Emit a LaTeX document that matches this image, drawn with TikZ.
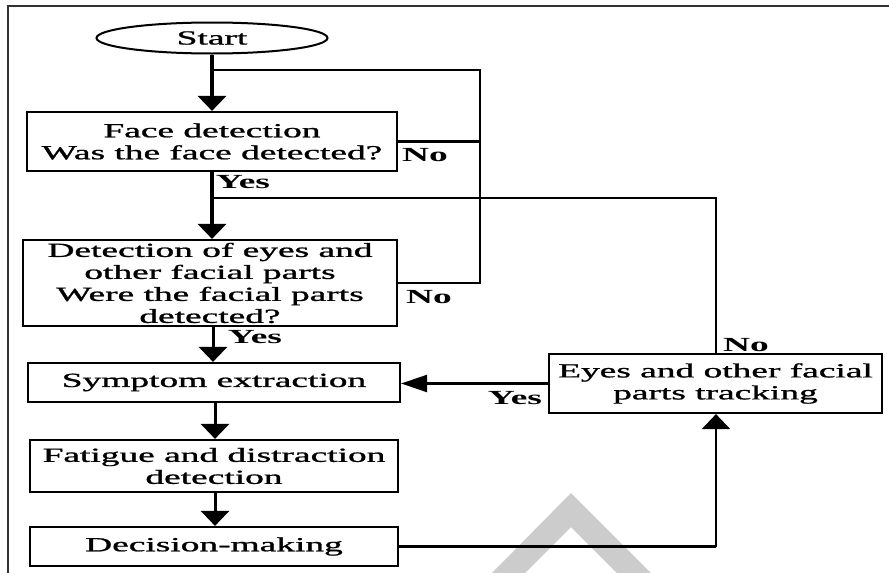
\documentclass[tikz,border=0pt]{standalone}
\usepackage{fontspec}
\setmainfont{Liberation Serif}
\newfontfamily\medfont[FakeBold=0.9]{Liberation Serif}
\usepackage{graphicx}
\usetikzlibrary{arrows.meta,shapes.geometric}
\newcommand{\hs}[1]{\scalebox{1.87}[1]{#1}}
\tikzset{
  box/.style={draw, line width=2.2pt, rectangle, inner sep=0pt, align=center,
    font=\fontsize{20}{22}\selectfont\medfont},
  startbox/.style={draw, line width=2pt, ellipse, inner sep=0pt,
    font=\fontsize{20}{22}\selectfont\medfont},
  lbl/.style={font=\fontsize{20}{22}\selectfont\bfseries, inner sep=0pt},
  mainarrow/.style={line width=3.5pt, -{Triangle[length=15pt,width=28pt]}},
  downarrow/.style={line width=3pt, -{Triangle[length=15pt,width=28pt]}},
  sidearrow/.style={line width=2.2pt, -{Triangle[length=26pt,width=17pt]}},
  uparrow/.style={line width=2.5pt, -{Triangle[length=15pt,width=28pt]}},
  loopline/.style={line width=2.5pt},
}
\begin{document}
\begin{tikzpicture}[x=1pt,y=-1pt]
\useasboundingbox (0,0) rectangle (889,573);
% frame
\draw[line width=2pt, black!80] (8,573) -- (8,6) -- (889,6);
% watermark
\fill[black!20] (492,573) -- (571,493) -- (651,573) -- (617,573) -- (571,527) -- (525,573) -- cycle;
% nodes
\node[startbox, minimum width=231pt, minimum height=31pt] (start) at (212,38) {\hs{Start}};
\node[box, minimum width=370pt, minimum height=59pt] (face) at (212,141.5)
  {\hs{Face detection}\\\hs{Was the face detected?}};
\node[box, minimum width=374pt, minimum height=86pt] (det) at (210,283)
  {\hs{Detection of eyes and}\\\hs{other facial parts}\\\hs{Were the facial parts}\\\hs{detected?}};
\node[box, minimum width=372pt, minimum height=39pt] (sym) at (214,382.5) {\hs{Symptom extraction}};
\node[box, minimum width=368pt, minimum height=52pt] (fat) at (214,466)
  {\hs{Fatigue and distraction}\\\hs{detection}};
\node[box, minimum width=368pt, minimum height=39pt] (dec) at (214,546.5) {\hs{Decision-making}};
\node[box, minimum width=333pt, minimum height=59pt] (trk) at (715.5,383.5)
  {\hs{Eyes and other facial}\\\hs{parts tracking}};
% helper coordinates
\coordinate (j1) at (212,70);
\coordinate (r1) at (480,70);
\coordinate (j2) at (212,198);
\coordinate (r2) at (716,198);
\coordinate (b2) at (716,546.5);
% connectors
\draw[mainarrow] (start.south -| j1) -- (face.north -| j1);
\draw[loopline] (face.east) -- (face.east -| r1);
\draw[loopline] (det.east) -- (det.east -| r1) -- (r1) -- (j1);
\draw[mainarrow] (face.south -| j2) -- (det.north -| j2);
\draw[loopline] (j2) -- (r2) -- (trk.north -| r2);
\draw[downarrow] (det.south -| 213,0) -- (sym.north -| 213,0);
\draw[downarrow] (sym.south -| 215,0) -- (fat.north -| 215,0);
\draw[downarrow] (fat.south -| 215,0) -- (dec.north -| 215,0);
\draw[sidearrow] (trk.west) -- (trk.west -| sym.east);
\draw[loopline] (dec.east) -- (b2);
\draw[uparrow] (b2) -- (trk.south -| b2);
% labels
\node[lbl] (no1) at (425,155) {\hs{No}};
\node[lbl] (yes1) at (243,182) {\hs{Yes}};
\node[lbl] (no2) at (429,297) {\hs{No}};
\node[lbl] (yes2) at (255,337) {\hs{Yes}};
\node[lbl] (no3) at (746,345) {\hs{No}};
\node[lbl] (yes3) at (515,398) {\hs{Yes}};
\end{tikzpicture}
\end{document}
